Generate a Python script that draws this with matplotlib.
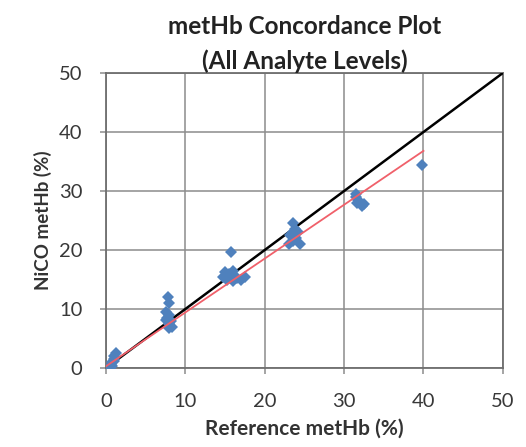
import matplotlib
matplotlib.use("Agg")
import matplotlib.pyplot as plt

ref_x = [0.5, 0.6, 0.8, 1.0, 1.0, 1.2, 0.7, 1.0,
         7.8, 7.9, 7.6, 8.0, 7.7, 8.2, 7.9, 8.3, 8.0, 7.5,
         15.8, 15.0, 15.5, 16.0, 15.3, 16.2, 17.0, 17.5, 16.5, 14.8, 16.0,
         23.5, 23.8, 23.2, 24.0, 23.5, 24.5, 23.0, 24.2,
         31.5, 31.8, 31.6, 32.2, 32.5, 31.5,
         39.8]
nico_y = [0.0, 0.5, 1.0, 1.5, 2.0, 2.5, 0.3, 1.2,
          12.0, 11.0, 9.5, 9.0, 8.5, 8.0, 7.5, 7.0, 6.8, 8.2,
          19.7, 16.2, 16.0, 16.5, 15.0, 15.5, 15.0, 15.5, 15.2, 15.5, 14.8,
          24.5, 23.5, 22.5, 22.0, 21.5, 21.0, 21.0, 23.0,
          29.5, 28.5, 28.0, 27.5, 27.8, 29.0,
          34.4]
identity_x = [0, 50]
identity_y = [0, 50]
fit_x = [0, 40]
fit_y = [0.3, 36.8]
ticks = [0, 10, 20, 30, 40, 50]

fig = plt.figure(figsize=(5.26, 4.47), dpi=100)
ax = fig.add_axes([0.2015, 0.1767, 0.7545, 0.66])

ax.plot(identity_x, identity_y, color="black", lw=1.8, zorder=3)
ax.plot(ref_x, nico_y, linestyle="none", marker="D", markersize=6,
        color="#4F81BD", markeredgewidth=0, zorder=4)
ax.plot(fit_x, fit_y, color="#F0606A", lw=1.3, zorder=5)

ax.set_xlim(0, 50)
ax.set_ylim(0, 50)
ax.set_xticks(ticks)
ax.set_yticks(ticks)
ax.grid(True, color="#8C8C8C", lw=1.1)
ax.set_axisbelow(True)
for s in ax.spines.values():
    s.set_color("#6E6E6E")
    s.set_linewidth(1.3)
ax.tick_params(direction="out", length=4, width=1.1, color="#8C8C8C",
               labelsize=14.5, labelcolor="#383838")
ax.tick_params(axis="x", pad=14)
ax.tick_params(axis="y", pad=13)
for lab in ax.get_xticklabels() + ax.get_yticklabels():
    lab.set_family("Lato")

ax.set_xlabel("Reference metHb (%)", fontsize=15, fontweight="bold",
              family="Lato", color="#333333", labelpad=6)
ax.set_ylabel("NiCO metHb (%)", fontsize=13.5, fontweight="bold",
              family="Lato", color="#333333", labelpad=5)
ax.set_title("metHb Concordance Plot\n(All Analyte Levels)", fontsize=17.5,
             fontweight="bold", family="Lato", color="#222222", pad=3,
             linespacing=1.55)

fig.savefig("out.png", dpi=100)
